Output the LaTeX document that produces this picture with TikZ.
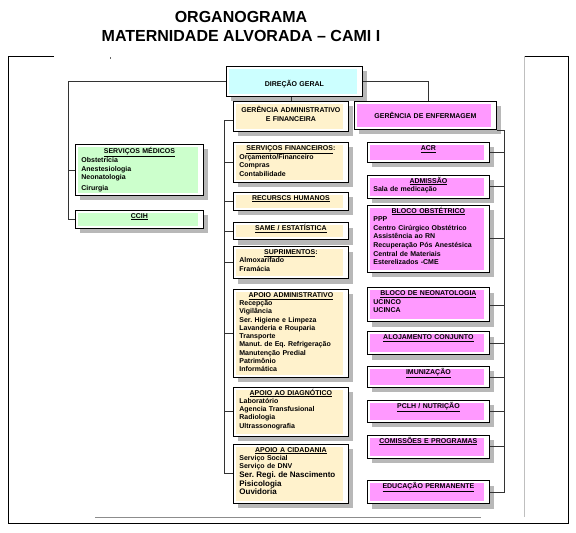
\documentclass[tikz,border=0pt]{standalone}
\usepackage{fontspec}
\setmainfont{Liberation Sans}
\usepackage{tikz}
\usetikzlibrary{positioning,shadows}

\definecolor{dirfill}{HTML}{CCFFFF}
\definecolor{admfill}{HTML}{FFF2CC}
\definecolor{enffill}{HTML}{FF99FF}
\definecolor{medfill}{HTML}{CCFFCC}
\definecolor{shadowgray}{HTML}{B8B8B8}

\newcommand{\boxhead}[2][]{\makebox[\linewidth]{\underline{#2}#1}}
\frenchspacing

\begin{document}
\begin{tikzpicture}[x=1pt, y=-1pt,
  box/.style={draw, fill=white, line width=.8pt, inner xsep=6pt, inner ysep=2pt,
    text height=6pt, align=left, font=\fontsize{7}{8.25}\selectfont\bfseries,
    drop shadow={shadow xshift=5pt, shadow yshift=-5pt, opacity=1, fill=shadowgray},
    path picture={\fill[#1] ([shift={(3pt,-2.5pt)}]path picture bounding box.north west)
      rectangle ([shift={(-5pt,2.5pt)}]path picture bounding box.south east);}},
  adm/.style={box=admfill, text width=103pt},
  enf/.style={box=enffill, text width=110pt},
  med/.style={box=medfill, text width=116pt},
  tall/.style={text depth=#1},
  link/.style={draw=black!80, line width=.6pt},
  title/.style={font=\fontsize{16}{19}\selectfont\bfseries, inner sep=0pt},
]
\useasboundingbox (0,0) rectangle (576,533);

% title
\node[title] (org) at (241,17) {ORGANOGRAMA};
\node[title, below=7.5pt of org] (mat) {MATERNIDADE ALVORADA – CAMI I};

% frame
\draw[line width=.8pt] (54,56) -- (8,56) -- (8,523) -- (568,523) -- (568,56) -- (524,56);
\draw[black!25, line width=.8pt] (524,56) -- (524,517);
\draw[black!45, line width=.8pt] (95,517) -- (481,517);
\draw[black!60, line width=.5pt] (110,57) -- (110,59);

% top
\node[box=dirfill, text width=124pt, align=center, text height=18pt, tall=8pt, anchor=north west] (dir) at (226,66) {DIREÇÃO GERAL};

% medical services
\node[med, text height=7pt, tall=40pt, anchor=north west] (medserv) at (75,144) {\boxhead{SERVIÇOS MÉDICOS}\\Obstetrícia\\Anestesiologia\\Neonatologia\\[2.5pt]Cirurgia};
\node[med, tall=8pt, below=14pt of medserv] (ccih) {\boxhead{CCIH}};

% administration
\node[adm, align=center, text height=9.5pt, tall=16.5pt, anchor=north west] (geradm) at (233,101) {GERÊNCIA ADMINISTRATIVO\\E FINANCEIRA};
\node[adm, tall=30pt, below=10pt of geradm] (finserv) {\boxhead[:]{SERVIÇOS FINANCEIROS}\\Orçamento/Financeiro\\Compras\\Contabilidade};
\node[adm, tall=8pt, below=9pt of finserv] (rh) {\boxhead{RECURSCS HUMANOS}};
\node[adm, tall=7pt, below=12pt of rh] (same) {\boxhead{SAME / ESTATÍSTICA}};
\node[adm, tall=22pt, below=6pt of same] (supr) {\boxhead[:]{SUPRIMENTOS}\\Almoxarifado\\Framácia};
\node[adm, tall=78pt, below=10pt of supr] (apadm) {\boxhead{APOIO ADMINISTRATIVO}\\Recepção\\Vigilância\\Ser. Higiene e Limpeza\\Lavanderia e Rouparia\\Transporte\\Manut. de Eq. Refrigeração\\Manutenção Predial\\Patrimônio\\Informática};
\node[adm, tall=39pt, below=9pt of apadm] (diag) {\boxhead{APOIO AO DIAGNÓTICO}\\Laboratório\\Agencia Transfusional\\Radiologia\\Ultrassonografia};
\node[adm, tall=49pt, below=7pt of diag] (cidad) {\boxhead{APOIO A CIDADANIA}\\Serviço Social\\Serviço de DNV\\\fontsize{8}{8.9}\selectfont Ser. Regi. de Nascimento\\Pisicologia\\Ouvidoria};

% nursing
\node[box=enffill, text width=130pt, align=center, text height=15.5pt, tall=8.5pt, anchor=north west] (gerenf) at (354,101) {GERÊNCIA DE ENFERMAGEM};
\node[enf, tall=10pt, anchor=north west] (acr) at (367,142) {\boxhead{ACR}};
\node[enf, tall=13pt, below=12pt of acr] (admis) {\boxhead{ADMISSÃO}\\Sala de medicação};
\node[enf, font=\fontsize{7}{8.6}\selectfont\bfseries, tall=57pt, below=6pt of admis] (obst) {\boxhead{BLOCO OBSTÉTRICO}\\PPP\\Centro Cirúrgico Obstétrico\\Assistência ao RN\\Recuperação Pós Anestésica\\Central de Materiais\\Esterelizados -CME};
\node[enf, tall=24pt, below=15pt of obst] (neo) {\boxhead{BLOCO DE NEONATOLOGIA}\\UCINCO\\UCINCA};
\node[enf, tall=13pt, below=9pt of neo] (aloj) {\boxhead{ALOJAMENTO CONJUNTO}};
\node[enf, tall=11pt, below=11pt of aloj] (imun) {\boxhead{IMUNIZAÇÃO}};
\node[enf, tall=12pt, below=12pt of imun] (pclh) {\boxhead{PCLH / NUTRIÇÃO}};
\node[enf, tall=13pt, below=12pt of pclh] (comis) {\boxhead{COMISSÕES E PROGRAMAS}};
\node[enf, tall=13pt, below=22pt of comis] (edu) {\boxhead{EDUCAÇÃO PERMANENTE}};

% connectors
\draw[link] (dir.west) -| ([xshift=-7pt]ccih.west) -- (ccih.west);
\draw[link] (medserv.west) -- ++(-7pt,0);
\draw[link] (dir.east) -| ([xshift=3pt]gerenf.north);
\draw[link] (dir.south -| geradm.north) -- (geradm.north);
\coordinate (ltrunk) at ([shift={(-9pt,-4pt)}]geradm.west);
\draw[link] (geradm.west |- ltrunk) -- (ltrunk) |- (cidad.west);
\foreach \n in {finserv,rh,same,supr,apadm,diag}
  \draw[link] (\n.west) -- (\n.west -| ltrunk);
\coordinate (rtrunk) at ([xshift=7pt]gerenf.south east);
\draw[link] (gerenf.south east) -- (rtrunk) |- (edu.east);
\foreach \n in {acr,admis,obst,neo,aloj,imun,pclh,comis}
  \draw[link] (\n.east) -- (\n.east -| rtrunk);
\end{tikzpicture}
\end{document}
